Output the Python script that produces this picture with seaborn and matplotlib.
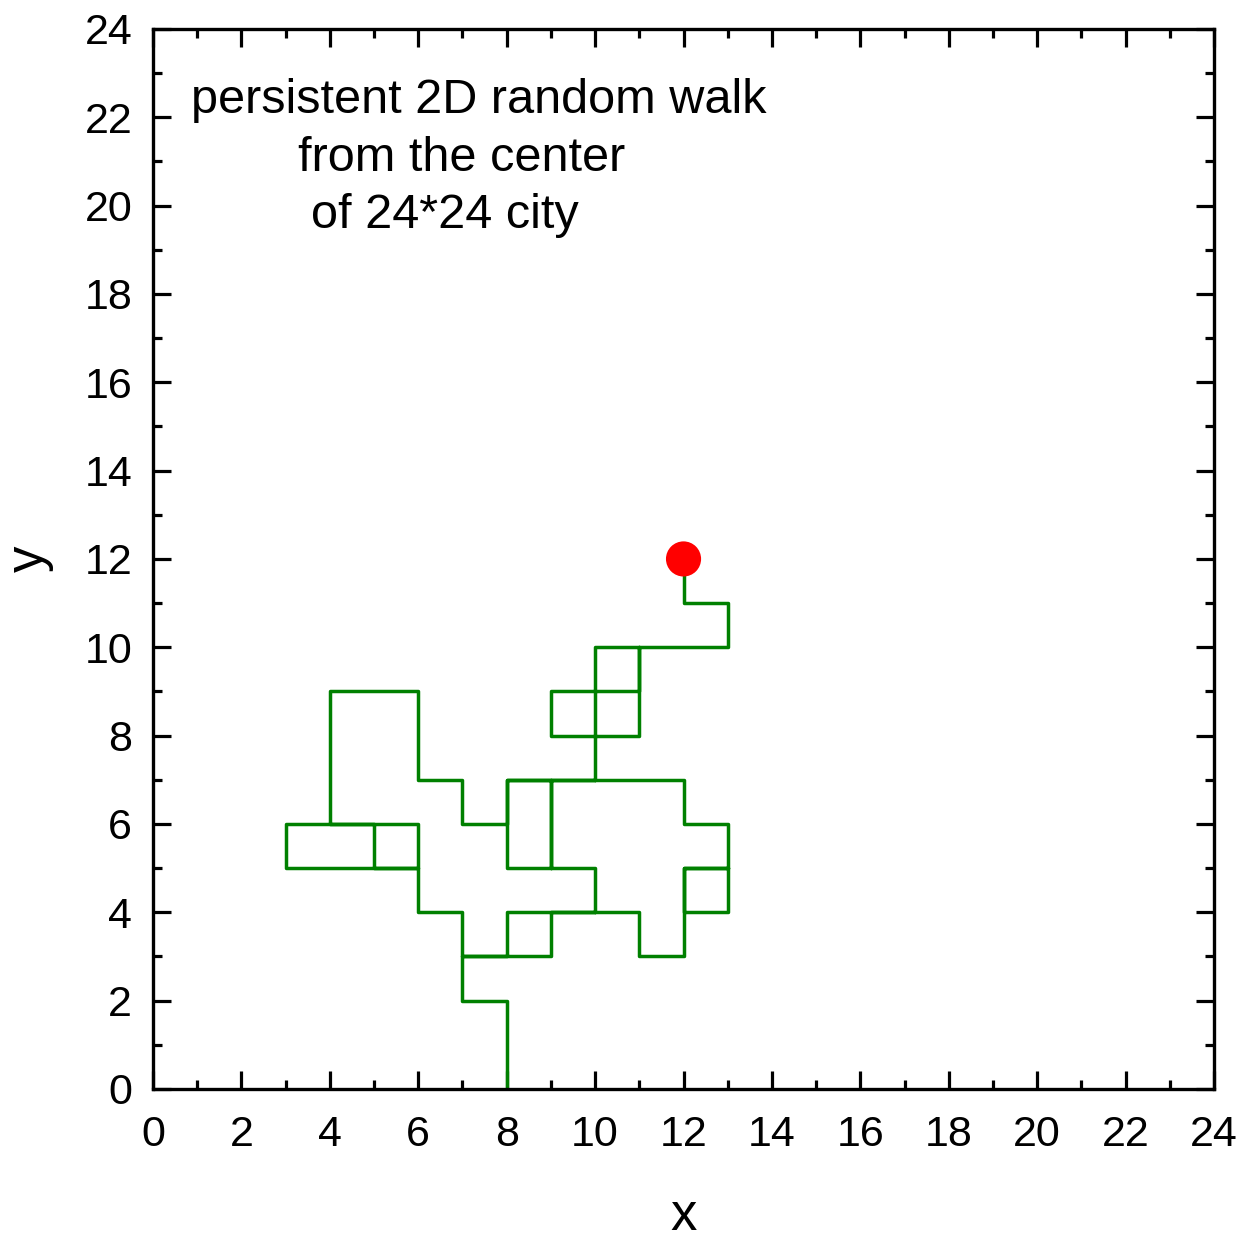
import matplotlib
matplotlib.use("Agg")
import matplotlib.pyplot as plt
from matplotlib.ticker import MultipleLocator
import seaborn as sns
import pandas as pd

# Lattice walk: corner points visited, starting at the city center
walk_x = [12, 12, 13, 13, 11, 10, 10, 11, 11, 11, 11, 10, 9, 9, 10, 10, 10,
          12, 12, 13, 13, 12, 12, 13, 12, 12, 11, 11, 10, 10, 8, 8, 10, 9, 9, 9, 8,
          8, 7, 7, 6, 6, 4, 4, 6, 6, 3, 3, 5, 5, 6, 6, 7, 7, 9, 9, 10, 9, 8, 8, 7,
          7, 8, 8]
walk_y = [12, 11, 11, 10, 10, 10, 9, 9, 10, 9, 8, 8, 8, 9, 9, 8, 7,
          7, 6, 6, 4, 4, 5, 5, 5, 3, 3, 4, 4, 5, 5, 7, 7, 7, 5, 7, 7,
          6, 6, 7, 7, 9, 9, 6, 6, 5, 5, 6, 6, 5, 5, 4, 4, 3, 3, 4, 4, 4, 4, 3, 3,
          2, 2, 0]
start_x = [12]
start_y = [12]

title_lines = ["persistent 2D random walk", "from the center", "of 24*24 city"]

sns.set_style("ticks")
plt.rcParams["font.family"] = ["Liberation Sans", "DejaVu Sans"]
plt.rcParams["text.color"] = "black"
plt.rcParams["axes.labelcolor"] = "black"
plt.rcParams["xtick.labelcolor"] = "black"
plt.rcParams["ytick.labelcolor"] = "black"

fig = plt.figure(figsize=(12.43, 12.41), dpi=100)
ax = fig.add_axes([0.1231, 0.1225, 0.8536, 0.8542])

walk = pd.DataFrame({"x": walk_x, "y": walk_y})
sns.lineplot(data=walk, x="x", y="y", sort=False, estimator=None,
             color="#008000", linewidth=2.5, ax=ax, zorder=2)
sns.scatterplot(x=start_x, y=start_y, color="#ff0000", s=640,
                edgecolor="none", ax=ax, zorder=3)

ax.set_xlim(0, 24)
ax.set_ylim(0, 24)
ax.xaxis.set_major_locator(MultipleLocator(2))
ax.yaxis.set_major_locator(MultipleLocator(2))
ax.xaxis.set_minor_locator(MultipleLocator(1))
ax.yaxis.set_minor_locator(MultipleLocator(1))
ax.tick_params(which="both", direction="in", top=True, right=True,
               color="black", width=2.3)
ax.tick_params(which="major", length=13, labelsize=31)
ax.tick_params(which="minor", length=6.5)
ax.tick_params(axis="x", which="major", pad=19)
ax.tick_params(axis="y", which="major", pad=15)
for sp in ax.spines.values():
    sp.set_linewidth(2.4)
    sp.set_color("black")

ax.set_xlabel("x", fontsize=38, labelpad=26)
ax.set_ylabel("y", fontsize=38, labelpad=22)

line_pos = [(0.86, 22.10), (3.28, 20.78), (3.58, 19.49)]
for (tx, ty), s in zip(line_pos, title_lines):
    ax.text(tx, ty, s, fontsize=35, ha="left", va="baseline", color="black")

fig.savefig("out.png", dpi=100)
